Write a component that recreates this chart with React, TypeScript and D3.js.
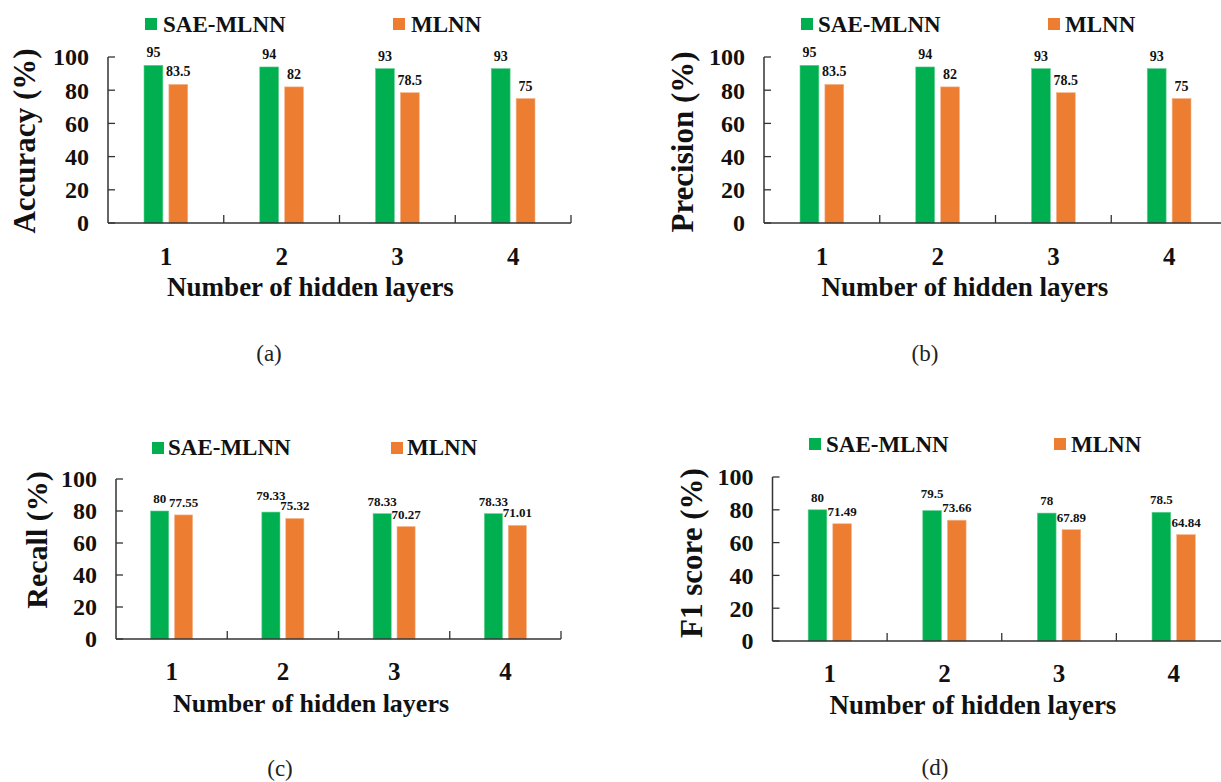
import React from "react";
import * as d3 from "d3";

const categories = ["1", "2", "3", "4"];
const seriesNames = ["SAE-MLNN", "MLNN"];
const yTicks = [0, 20, 40, 60, 80, 100];

const accuracySAE = [95, 94, 93, 93];
const accuracyMLNN = [83.5, 82, 78.5, 75];
const precisionSAE = [95, 94, 93, 93];
const precisionMLNN = [83.5, 82, 78.5, 75];
const recallSAE = [80, 79.33, 78.33, 78.33];
const recallMLNN = [77.55, 75.32, 70.27, 71.01];
const f1SAE = [80, 79.5, 78, 78.5];
const f1MLNN = [71.49, 73.66, 67.89, 64.84];

const yTitles = ["Accuracy (%)", "Precision (%)", "Recall (%)", "F1 score (%)"];
const xTitle = "Number of hidden layers";
const captions = ["(a)", "(b)", "(c)", "(d)"];

const COLORS = ["#00B050", "#ED7D31"];
const FONT = "'Liberation Serif', 'Times New Roman', serif";

type Layout = {
  ox: number; x1: number; yTop: number; y0: number;
  legSqTop: number; legBase: number; legX: [number, number]; legTextOff: number;
  titleCx: number; titleBase: number; titleSize: number;
  yTitleX: number; yTitleCy: number; yTitleSize: number;
  catBase: number; capX: number; capY: number; labelSize: number;
  lift: number[][];
};

const layouts: Layout[] = [
  { ox: 108, x1: 571, yTop: 57, y0: 223, legSqTop: 18, legBase: 32, legX: [145, 393], legTextOff: 18,
    titleCx: 310.5, titleBase: 296, titleSize: 27, yTitleX: 35, yTitleCy: 141, yTitleSize: 31,
    catBase: 265, capX: 269, capY: 361, labelSize: 14, lift: [[0, 0, 0, 0], [0, 0, 0, 0]] },
  { ox: 764, x1: 1227, yTop: 57, y0: 223, legSqTop: 18, legBase: 32, legX: [801, 1048], legTextOff: 17,
    titleCx: 965, titleBase: 296, titleSize: 27, yTitleX: 693, yTitleCy: 142, yTitleSize: 31,
    catBase: 265, capX: 925, capY: 361, labelSize: 14, lift: [[0, 0, 0, 0], [0, 0, 0, 0]] },
  { ox: 116, x1: 561, yTop: 479, y0: 639, legSqTop: 442, legBase: 455, legX: [152, 391], legTextOff: 16,
    titleCx: 311, titleBase: 712, titleSize: 26, yTitleX: 47, yTitleCy: 540, yTitleSize: 30,
    catBase: 680, capX: 280, capY: 776, labelSize: 13, lift: [[0, 4, 0, 0], [0, 0, 0, 0]] },
  { ox: 772.5, x1: 1231, yTop: 477, y0: 641, legSqTop: 438, legBase: 452, legX: [809, 1054], legTextOff: 17,
    titleCx: 973, titleBase: 714, titleSize: 27, yTitleX: 702, yTitleCy: 553, yTitleSize: 31,
    catBase: 682, capX: 935, capY: 775, labelSize: 13, lift: [[0, 5, 0, 0], [0, 0, 0, 0]] },
];

const panelData = [
  [accuracySAE, accuracyMLNN],
  [precisionSAE, precisionMLNN],
  [recallSAE, recallMLNN],
  [f1SAE, f1MLNN],
];

function Panel({ idx }: { idx: number }) {
  const L = layouts[idx];
  const data = panelData[idx];
  const x = d3.scaleBand<string>().domain(categories).range([L.ox, L.x1]).padding(0);
  const W = x.bandwidth();
  const xs = d3.scaleBand<string>().domain(seriesNames).range([0, W]).paddingInner(0.242).paddingOuter(1.447);
  const y = d3.scaleLinear().domain([0, 100]).range([L.y0, L.yTop]);
  const axisColor = "#333";
  return (
    <g>
      {seriesNames.map((s, i) => (
        <g key={s}>
          <rect x={L.legX[i]} y={L.legSqTop} width={12} height={12} fill={COLORS[i]} />
          <text x={L.legX[i] + L.legTextOff} y={L.legBase} fontFamily={FONT} fontWeight="bold" fontSize={23} fill="#111">{s}</text>
        </g>
      ))}
      {seriesNames.map((s, si) =>
        categories.map((c, ci) => {
          const v = data[si][ci];
          const bx = (x(c) as number) + (xs(s) as number);
          const bw = xs.bandwidth();
          return (
            <g key={s + c}>
              <rect x={bx} y={y(v)} width={bw} height={y(0) - y(v)} fill={COLORS[si]} stroke={si === 1 ? "#F5B58C" : "#5FD08E"} strokeWidth={0.6} />
              <text x={bx + bw / 2} y={y(v) - 8 - L.lift[si][ci]} textAnchor="middle" fontFamily={FONT} fontWeight="bold" fontSize={L.labelSize} fill="#111">{String(v)}</text>
            </g>
          );
        })
      )}
      <line x1={L.ox} x2={L.ox} y1={y(100)} y2={y(0)} stroke={axisColor} strokeWidth={1.5} />
      {yTicks.map((t) => (
        <g key={t}>
          <line x1={L.ox} x2={L.ox + 7} y1={y(t)} y2={y(t)} stroke={axisColor} strokeWidth={1.3} />
          <text x={L.ox - 19} y={y(t)} dy="0.35em" textAnchor="end" fontFamily={FONT} fontWeight="bold" fontSize={24} fill="#111">{t}</text>
        </g>
      ))}
      <line x1={L.ox} x2={L.x1} y1={y(0)} y2={y(0)} stroke={axisColor} strokeWidth={1.5} />
      {categories.map((c) => (
        <g key={c}>
          <line x1={(x(c) as number) + W} x2={(x(c) as number) + W} y1={y(0)} y2={y(0) - 8} stroke={axisColor} strokeWidth={1.3} />
          <text x={(x(c) as number) + W / 2} y={L.catBase} textAnchor="middle" fontFamily={FONT} fontWeight="bold" fontSize={25} fill="#111">{c}</text>
        </g>
      ))}
      <text x={L.titleCx} y={L.titleBase} textAnchor="middle" fontFamily={FONT} fontWeight="bold" fontSize={L.titleSize} fill="#111">{xTitle}</text>
      <text transform={`translate(${L.yTitleX},${L.yTitleCy}) rotate(-90)`} textAnchor="middle" fontFamily={FONT} fontWeight="bold" fontSize={L.yTitleSize} fill="#111">{yTitles[idx]}</text>
      <text x={L.capX} y={L.capY} textAnchor="middle" fontFamily={FONT} fontSize={23} fill="#222">{captions[idx]}</text>
    </g>
  );
}

export default function App() {
  return (
    <svg width={1221} height={782} style={{ position: "absolute", left: 0, top: 0, background: "#fff" }}>
      <rect x={0} y={0} width={1221} height={782} fill="#fff" />
      {[0, 1, 2, 3].map((i) => <Panel key={i} idx={i} />)}
    </svg>
  );
}
